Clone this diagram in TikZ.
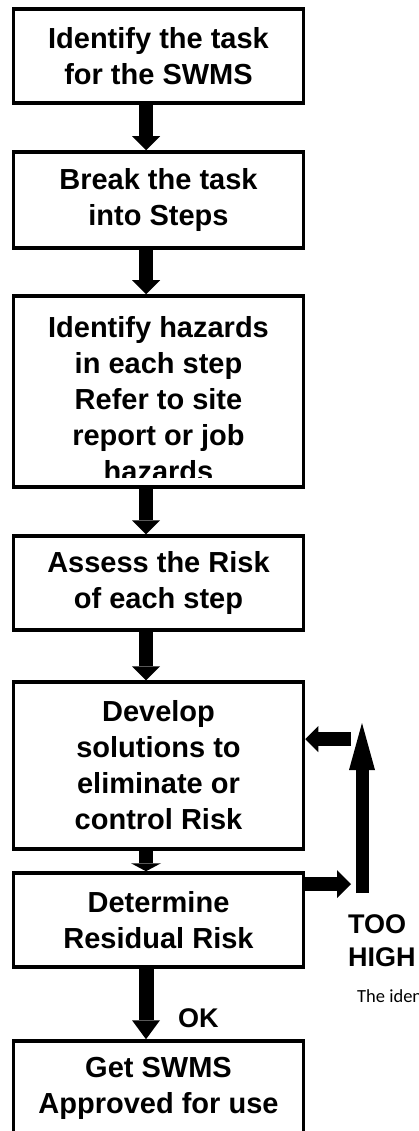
\documentclass[tikz,border=0pt]{standalone}
\usepackage{fontspec}
\setmainfont{Liberation Sans}
\newfontfamily\calib{Carlito}
\usetikzlibrary{arrows.meta}
\begin{document}
\begin{tikzpicture}[x=1pt,y=-1pt,
  boxfont/.style={font=\bfseries\fontsize{29}{36}\selectfont},
  box/.style={draw, line width=3.5pt, minimum width=290pt, inner sep=0pt, align=center, boxfont},
  fat/.style={line width=14pt, -{Triangle[width=28pt,length=14pt,line width=0pt]}},
  lbl/.style={font=\bfseries\fontsize{27}{33}\selectfont, inner sep=0pt}]
\useasboundingbox (0,0) rectangle (419,1131);
\clip (0,0) rectangle (419,1131);
% boxes
\node[box, minimum height=94pt] (b1) at (158.5,56) {Identify the task\\for the SWMS};
\node[box, minimum height=96pt] (b2) at (158.5,200) {Break the task\\into Steps};
\node[box, minimum height=191pt] (b3) at (158.5,391.5) {};
\begin{scope}
  \clip (13,296) rectangle (303,477);
  \node[boxfont, align=center, inner sep=0pt, anchor=north] (t3) at (158.5,316)
    {Identify hazards\\in each step\\Refer to site\\report or job\\hazards};
\end{scope}
\node[box, minimum height=94pt] (b4) at (158.5,583) {Assess the Risk\\of each step};
\node[box, minimum height=167pt] (b5) at (158.5,765.5) {Develop\\solutions to\\eliminate or\\control Risk};
\node[box, minimum height=94pt] (b6) at (158.5,920) {Determine\\Residual Risk};
\node[box, minimum height=94pt] (b7) at (158.5,1088) {Get SWMS\\Approved for use};
% coordinates
\coordinate (ax) at (146,0);
\coordinate (r1) at (351,884);
\coordinate (upB) at (362,893);
\coordinate (upT) at (362,723);
\coordinate (l1) at (351,739);
% down arrows
\draw[fat] (b1.south -| ax) -- (b2.north -| ax);
\draw[fat] (b2.south -| ax) -- (b3.north -| ax);
\draw[fat] (b3.south -| ax) -- (b4.north -| ax);
\draw[fat] (b4.south -| ax) -- (b5.north -| ax);
\draw[line width=14pt, -{Triangle[width=30pt,length=8pt,line width=0pt]}] (b5.south -| ax) -- (b6.north -| ax);
\draw[line width=15pt, -{Triangle[width=28pt,length=19pt,line width=0pt]}] (b6.south -| ax) -- (b7.north -| ax);
% feedback loop
\draw[fat] (b6.east |- r1) -- (r1);
\draw[line width=13pt, -{Triangle[width=26pt,length=47pt,line width=0pt]}] (upB) -- (upT);
\draw[line width=14pt, -{Triangle[width=26pt,length=13pt,line width=0pt]}] (l1) -- (b5.east |- l1);
% labels
\node[lbl, align=left, anchor=north west, font=\bfseries\fontsize{27}{33}\selectfont] (too) at (348,914) {TOO\\HIGH};
\node[lbl, anchor=base west] (ok) at (178,1027) {OK};
\node[inner sep=0pt, anchor=base west, font=\calib\fontsize{18.5}{22}\selectfont] (iden) at (357,1002) {The iden};
\end{tikzpicture}
\end{document}
